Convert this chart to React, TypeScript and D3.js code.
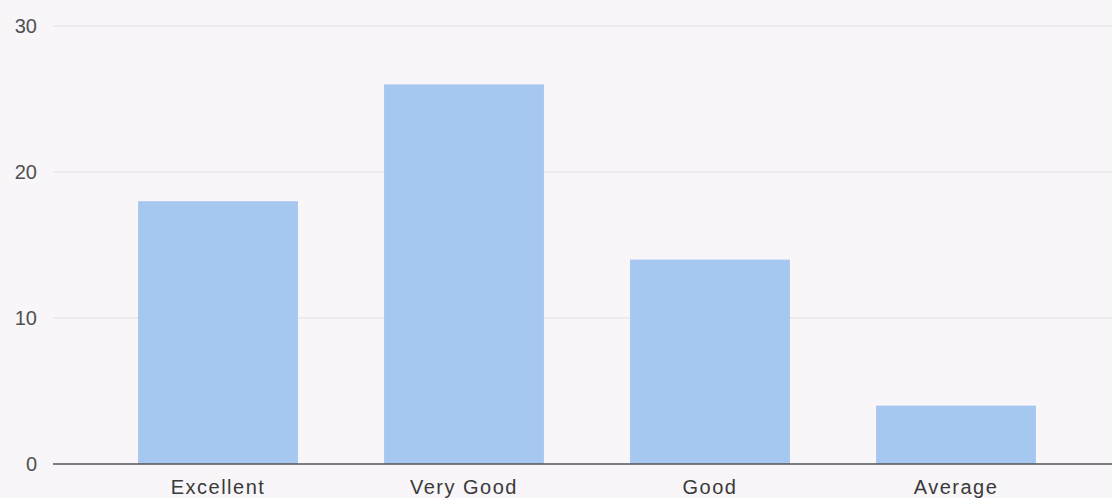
import React, { useEffect, useRef } from 'react';
import * as d3 from 'd3';

const categories = ['Excellent', 'Very Good', 'Good', 'Average'];
const counts = [18, 26, 14, 4];
const yTicks = [0, 10, 20, 30];

const W = 1112;
const H = 498;

const App: React.FC = () => {
  const svgRef = useRef<SVGSVGElement>(null);

  useEffect(() => {
    if (!svgRef.current) return;
    const svg = d3.select(svgRef.current);
    svg.selectAll('*').remove();

    // background, slightly warm off-white like the scan
    svg.append('rect')
      .attr('width', W)
      .attr('height', H)
      .attr('fill', '#f8f6f8');

    const axisLeft = 53;

    const x = d3.scaleBand<string>()
      .domain(categories)
      .range([95, 1079])
      .paddingInner(0.35)
      .paddingOuter(0.175);

    const y = d3.scaleLinear()
      .domain([0, 30])
      .range([464, 26]);

    // gridlines
    svg.append('g')
      .selectAll('line')
      .data(yTicks.filter(t => t !== 0))
      .join('line')
      .attr('x1', axisLeft)
      .attr('x2', W)
      .attr('y1', d => y(d))
      .attr('y2', d => y(d))
      .attr('stroke', '#e2dfe3')
      .attr('stroke-width', 1);

    // tick labels
    svg.append('g')
      .selectAll('text')
      .data(yTicks)
      .join('text')
      .attr('x', 37)
      .attr('y', d => y(d))
      .attr('dy', '0.35em')
      .attr('text-anchor', 'end')
      .attr('font-family', '"Liberation Sans", Arial, sans-serif')
      .attr('font-size', 20)
      .attr('fill', '#505050')
      .text(d => d);

    // bars
    svg.append('g')
      .selectAll('rect')
      .data(categories)
      .join('rect')
      .attr('x', d => x(d)!)
      .attr('width', x.bandwidth())
      .attr('y', (d, i) => y(counts[i]))
      .attr('height', (d, i) => y(0) - y(counts[i]))
      .attr('fill', '#a6c8f0');

    // baseline
    svg.append('line')
      .attr('x1', axisLeft)
      .attr('x2', W)
      .attr('y1', y(0))
      .attr('y2', y(0))
      .attr('stroke', '#555')
      .attr('stroke-width', 1.5);

    // category labels
    svg.append('g')
      .selectAll('text')
      .data(categories)
      .join('text')
      .attr('x', d => x(d)! + x.bandwidth() / 2)
      .attr('y', 494)
      .attr('text-anchor', 'middle')
      .attr('font-family', '"Liberation Sans", Arial, sans-serif')
      .attr('font-size', 20)
      .attr('letter-spacing', 1.5)
      .attr('fill', '#3a3a3a')
      .text(d => d);
  }, []);

  return (
    <svg
      ref={svgRef}
      width={W}
      height={H}
      style={{ position: 'absolute', left: 0, top: 0, display: 'block' }}
    />
  );
};

export default App;
